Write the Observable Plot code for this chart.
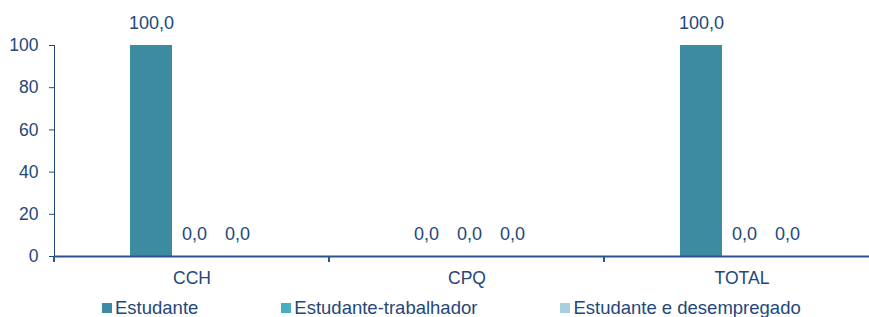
<!DOCTYPE html>
<html>
<head>
<meta charset="utf-8">
<script src="https://cdn.jsdelivr.net/npm/d3@7"></script>
<script src="https://cdn.jsdelivr.net/npm/@observablehq/plot@0.6"></script>
<style>
  body { margin: 0; background: #fff; font-family: "Liberation Sans", Arial, sans-serif; }
  #wrap { position: relative; width: 869px; height: 317px; overflow: hidden; background: #fff; }
  #chart { width: 879px; }
  #legend { position: absolute; left: 102px; top: 298px; display: flex; gap: 83px; font-size: 18.5px; color: #24477a; line-height: 20px; }
  #legend .item { display: flex; align-items: center; white-space: nowrap; }
  #legend .sw { width: 10px; height: 10px; margin-right: 3px; }
</style>
</head>
<body>
<div id="wrap">
  <div id="chart"></div>
  <div id="legend"></div>
</div>
<script>
const groups = ["CCH", "CPQ", "TOTAL"];
const series = ["Estudante", "Estudante-trabalhador", "Estudante e desempregado"];
const estudante = [100, 0, 100];
const estudanteTrabalhador = [0, 0, 0];
const estudanteDesempregado = [0, 0, 0];
const yTicks = [0, 20, 40, 60, 80, 100];
const colors = ["#3d8ba1", "#4bacc6", "#a9cfdc"];
const textColor = "#24477a";
const axisColor = "#2e5490";

const values = [estudante, estudanteTrabalhador, estudanteDesempregado];
const data = [];
groups.forEach((g, gi) => series.forEach((s, si) => data.push({group: g, series: s, value: values[si][gi]})));
const fmt = v => v.toFixed(1).replace(".", ",");

const chart = Plot.plot({
  width: 879,
  height: 290,
  marginTop: 45,
  marginBottom: 34,
  marginLeft: 54,
  marginRight: 0,
  style: {fontSize: "17.5px", fontFamily: "'Liberation Sans', Arial, sans-serif", color: textColor, background: "white", maxWidth: "none", overflow: "visible"},
  fx: {domain: groups, padding: 0, axis: "bottom", tickSize: 0, tickPadding: 15, label: null, fontSize: 18},
  x: {domain: series, axis: null, paddingInner: 0.023, paddingOuter: 1.709, align: 0.52},
  y: {domain: [0, 100], ticks: yTicks, tickSize: 5, tickPadding: 11, label: null, line: true},
  color: {domain: series, range: colors},
  marks: [
    Plot.barY(data, {fx: "group", x: "series", y: "value", fill: "series"}),
    Plot.ruleY([0], {stroke: axisColor, strokeWidth: 2}),
    Plot.text(data, {fx: "group", x: "series", y: "value", text: d => fmt(d.value), dy: -22, fill: textColor, fontSize: 18})
  ]
});
document.getElementById("chart").appendChild(chart);

// separator ticks at the category band edges, from the library's scales
const fxs = chart.scale("fx");
const ys = chart.scale("y");
const y0 = ys.apply(0);
const svg = d3.select(chart);
const edges = groups.map(g => fxs.apply(g));
svg.append("g").selectAll("line").data(edges).join("line")
  .attr("x1", d => d).attr("x2", d => d)
  .attr("y1", y0).attr("y2", y0 + 6)
  .attr("stroke", axisColor).attr("stroke-width", 2);

const legend = d3.select("#legend");
series.forEach((s, i) => {
  const it = legend.append("div").attr("class", "item");
  it.append("div").attr("class", "sw").style("background", colors[i]);
  it.append("span").text(s);
});
</script>
</body>
</html>
